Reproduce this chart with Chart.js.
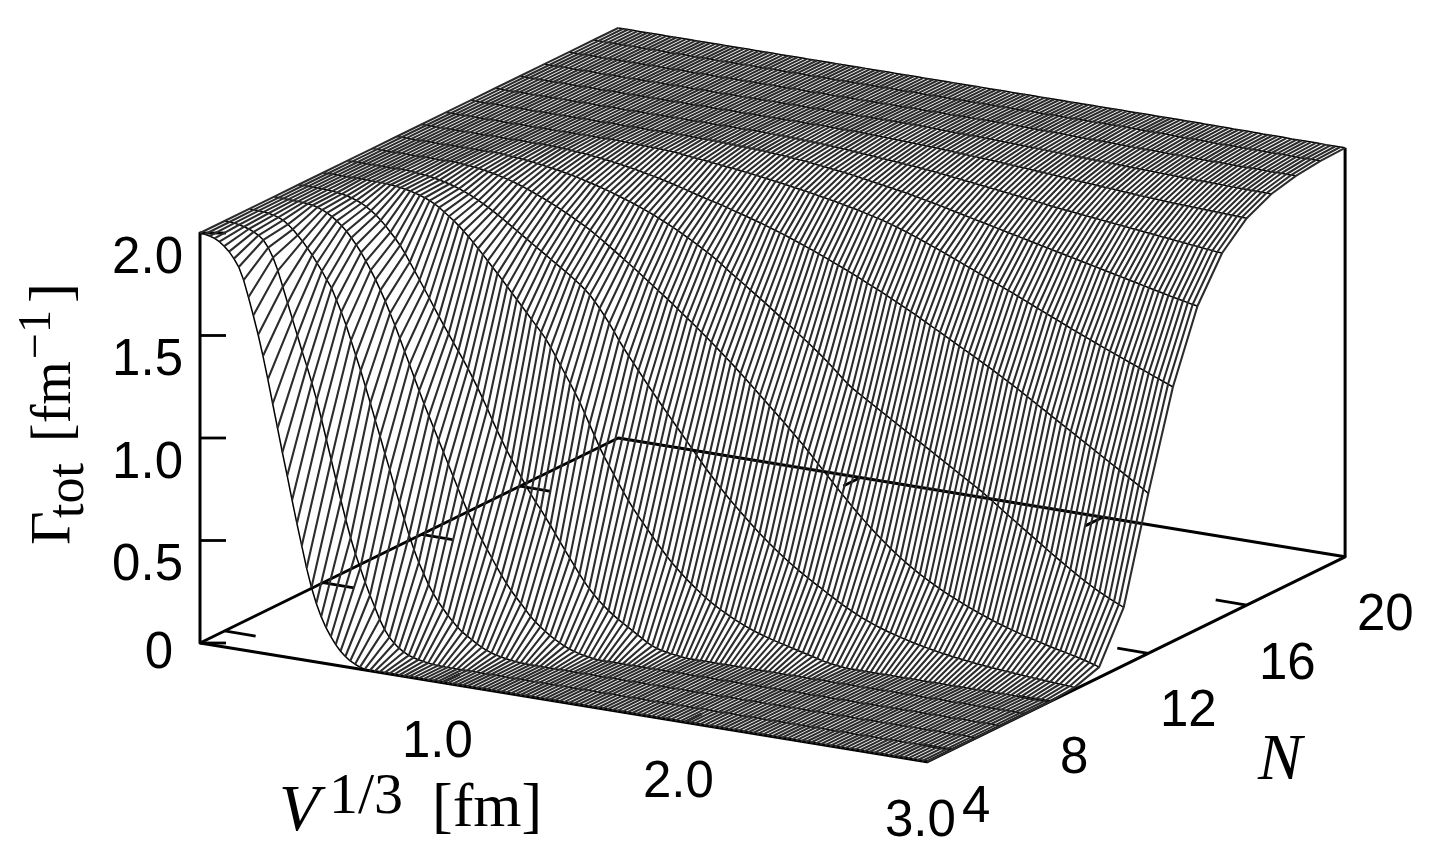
<!DOCTYPE html>
<html>
<head>
<meta charset="utf-8">
<title>Gamma tot surface</title>
<script src="https://cdn.jsdelivr.net/npm/chart.js@4/dist/chart.umd.js"></script>
<style>
    body { margin: 0; background: #fff; }
</style>
</head>
<body>
<canvas id="chart-div" width="1429" height="860"></canvas>
<script>
// Gamma_tot in 1/1000 fm^-1, one row per N, columns every 0.02 fm of V^(1/3).
// Before leadCols[row] the surface sits at 2000, after the end of the row at 0.
var nValues = [3, 4, 5, 6, 7, 8, 9, 10, 11, 12, 13, 14, 15, 16, 17, 18, 19, 20];
var leadCols = [0, 0, 0, 0, 6, 10, 13, 18, 21, 26, 36, 46, 56, 66, 76, 91, 111, 121];

var gammaN3 = [2000,1998,1993,1985,1973,1955,1932,1902,1865,1805,1725,1640,1550,1450,1340,1225,1110,995,885,770,660,555,450,360,285,225,175,135,100,72,50,32,20,10,4,0];
var gammaN4 = [2000,1999,1997,1993,1987,1980,1970,1957,1938,1905,1860,1800,1725,1650,1575,1500,1425,1355,1280,1200,1110,1015,920,825,730,640,555,480,415,350,290,235,180,135,100,75,55,40,28,20,14,10,6,3,1,0];
var gammaN5 = [2000,2000,1999,1997,1994,1989,1982,1972,1955,1935,1910,1885,1855,1825,1790,1755,1715,1680,1625,1570,1510,1440,1370,1300,1225,1150,1070,995,915,840,760,685,610,535,470,410,360,310,270,235,205,175,150,125,105,90,75,60,47,36,27,20,15,10,7,4,2,1,0];
var gammaN6 = [2000,2000,2000,1999,1998,1997,1995,1993,1990,1984,1975,1964,1950,1933,1913,1890,1862,1832,1798,1760,1720,1677,1630,1580,1525,1470,1410,1350,1290,1230,1170,1110,1055,1000,945,890,835,780,725,672,620,572,530,490,450,412,372,335,300,268,240,213,185,157,135,115,97,80,66,52,40,30,22,15,10,6,2,0];
var gammaN7 = [1998,1996,1993,1990,1985,1978,1970,1960,1947,1932,1914,1893,1869,1842,1815,1785,1750,1712,1672,1632,1592,1552,1510,1470,1430,1392,1354,1316,1278,1238,1196,1152,1106,1058,1008,960,915,870,830,790,750,712,675,640,610,575,540,503,466,430,395,360,325,292,262,236,212,190,170,152,135,120,105,90,75,60,45,33,24,18,13,9,6,3,0];
var gammaN8 = [1999,1999,1998,1997,1995,1992,1989,1985,1980,1974,1967,1959,1949,1937,1923,1905,1888,1870,1850,1828,1805,1780,1754,1728,1701,1674,1647,1620,1592,1564,1536,1508,1480,1452,1424,1396,1366,1330,1290,1250,1210,1170,1128,1085,1035,985,935,885,840,800,760,720,682,645,610,578,548,518,488,458,430,402,376,352,330,308,288,268,250,232,215,200,186,173,160,148,137,127,117,108,100,92,85,78,72,66,60,54,48,42,36,30,24,18,13,9,6,3,0];
var gammaN9 = [1998,1996,1994,1991,1988,1984,1979,1973,1967,1960,1952,1943,1933,1922,1910,1897,1884,1870,1855,1840,1824,1808,1792,1776,1760,1744,1728,1712,1696,1680,1664,1648,1632,1616,1598,1580,1560,1538,1510,1480,1448,1415,1378,1340,1305,1272,1240,1208,1176,1144,1113,1082,1052,1022,992,962,932,902,872,842,812,783,755,727,700,674,649,625,601,578,555,533,511,490,470,450,431,413,395,378,362,346,331,316,302,288,272,258,244,230,217,205,193,182,172,162,153,145,137,130,123,116,110,104,98,93,88,83,78,74,70,66,62,59,56,53,50,47,45,42,40,38,36,34,32,30,28,26,24,22,21,19,18,16,15,13,12,10];
var gammaN10 = [1998,1996,1994,1991,1988,1984,1980,1975,1970,1964,1958,1951,1943,1935,1926,1917,1907,1897,1887,1876,1865,1853,1841,1829,1816,1803,1790,1776,1760,1744,1728,1711,1694,1677,1660,1643,1626,1608,1590,1572,1554,1536,1518,1500,1481,1462,1443,1424,1405,1386,1366,1346,1326,1305,1284,1263,1242,1220,1198,1176,1153,1130,1107,1084,1061,1038,1015,992,968,944,920,896,870,844,818,792,766,740,714,688,663,638,614,590,567,545,523,502,482,462,443,425,408,392,376,361,347,333,320,307,295,283,272,261,250,240,230,220,211,202,193,185,177,169,162,155,148,141,135,129,123,117,111,105,100,95,89,84,78,72,65,58,50];
var gammaN11 = [1999,1998,1996,1994,1992,1990,1987,1984,1980,1977,1973,1969,1965,1961,1956,1951,1946,1940,1934,1928,1922,1915,1908,1901,1893,1885,1877,1869,1860,1851,1842,1832,1822,1811,1800,1789,1777,1765,1752,1739,1726,1712,1698,1684,1669,1654,1636,1618,1600,1584,1567,1550,1533,1516,1499,1482,1464,1446,1428,1410,1392,1374,1356,1338,1320,1301,1282,1262,1241,1220,1198,1175,1154,1136,1120,1105,1090,1075,1060,1045,1030,1015,1000,985,970,955,940,925,910,895,880,865,850,835,820,805,790,775,760,745,730,712,695,678,660,643,626,609,592,575,558,541,524,507,490,474,458,442,426,410,395,380,366,352,339,327,315,304,293,283];
var gammaN12 = [1999,1998,1997,1996,1995,1993,1991,1989,1987,1984,1981,1978,1975,1972,1968,1964,1960,1956,1952,1947,1942,1937,1932,1927,1921,1915,1909,1903,1897,1890,1883,1876,1870,1864,1858,1852,1846,1839,1832,1825,1818,1811,1804,1797,1790,1782,1774,1766,1758,1750,1741,1732,1723,1714,1705,1696,1686,1676,1666,1656,1646,1636,1626,1615,1604,1593,1582,1571,1560,1549,1537,1525,1513,1501,1489,1477,1465,1452,1439,1426,1413,1400,1387,1374,1361,1348,1335,1322,1309,1296,1283,1270,1256,1242,1228,1214,1200,1186,1171,1156,1141,1126,1111,1096,1081,1066,1051,1036,1021,1006,991,976,961,946,931,916,901,886,871,856,841,826,811,796,780];
var gammaN13 = [1999,1999,1998,1998,1997,1996,1995,1994,1993,1992,1990,1988,1986,1983,1980,1977,1975,1972,1970,1967,1964,1961,1958,1956,1953,1950,1947,1944,1940,1937,1933,1930,1926,1923,1919,1915,1911,1907,1903,1899,1895,1890,1886,1881,1877,1872,1867,1862,1857,1852,1846,1840,1834,1828,1822,1815,1808,1800,1792,1784,1775,1766,1757,1748,1738,1729,1720,1710,1700,1690,1680,1670,1660,1650,1640,1630,1620,1610,1600,1590,1580,1570,1559,1549,1538,1528,1517,1507,1496,1486,1476,1465,1455,1444,1434,1424,1414,1404,1394,1384,1374,1365,1355,1346,1336,1326,1317,1307,1298,1288,1278,1269,1259,1250,1240];
var gammaN14 = [1999,1999,1998,1998,1997,1996,1995,1994,1993,1992,1991,1990,1989,1988,1987,1986,1984,1982,1980,1978,1976,1974,1972,1970,1967,1964,1961,1958,1955,1952,1949,1946,1943,1939,1935,1931,1927,1923,1919,1915,1911,1907,1903,1899,1895,1890,1885,1880,1875,1870,1865,1860,1855,1849,1843,1838,1832,1827,1821,1816,1811,1805,1800,1794,1789,1783,1778,1773,1767,1762,1756,1751,1745,1740,1735,1729,1724,1718,1713,1708,1702,1697,1691,1686,1681,1675,1670,1664,1659,1654,1648,1643,1637,1632,1627,1621,1616,1610,1605,1600,1595,1590,1585,1580,1576];
var gammaN15 = [1999,1999,1998,1998,1997,1996,1995,1994,1993,1992,1991,1990,1988,1987,1985,1984,1982,1980,1978,1976,1974,1972,1970,1968,1966,1964,1962,1960,1958,1956,1954,1952,1949,1947,1944,1942,1939,1936,1933,1930,1927,1924,1921,1918,1915,1912,1909,1906,1903,1900,1897,1894,1891,1888,1885,1882,1878,1875,1871,1868,1865,1862,1860,1857,1854,1852,1849,1846,1844,1841,1838,1836,1833,1830,1828,1825,1822,1820,1817,1814,1812,1809,1806,1804,1801,1798,1796,1793,1790,1788,1785,1782,1780,1777,1776];
var gammaN16 = [1999,1999,1998,1998,1997,1996,1995,1994,1994,1993,1992,1991,1990,1989,1988,1987,1986,1985,1984,1983,1982,1980,1979,1978,1976,1975,1974,1972,1971,1969,1968,1966,1965,1963,1961,1960,1958,1956,1955,1953,1951,1949,1948,1946,1944,1942,1940,1939,1937,1935,1933,1931,1930,1928,1926,1924,1923,1921,1919,1917,1916,1914,1912,1911,1909,1908,1906,1905,1903,1902,1901,1900,1899,1898,1897,1896,1895,1894,1893,1892,1891,1890,1889,1888,1887];
var gammaN17 = [1999,1999,1998,1998,1997,1997,1996,1996,1995,1994,1994,1993,1992,1992,1991,1990,1990,1989,1988,1987,1987,1986,1985,1984,1983,1983,1982,1981,1980,1979,1978,1977,1976,1975,1975,1974,1973,1972,1971,1970,1969,1968,1968,1967,1966,1965,1964,1963,1963,1962,1961,1960,1959,1959,1958,1957,1956,1956,1955,1954,1954,1953,1952,1952,1951,1951,1950,1950,1949,1949,1948,1948,1947,1947,1946];
var gammaN18 = [1999,1999,1998,1998,1997,1997,1996,1996,1995,1995,1994,1994,1993,1993,1992,1992,1991,1991,1990,1990,1989,1989,1988,1988,1987,1987,1986,1986,1985,1985,1985,1984,1984,1983,1983,1983,1982,1982,1981,1981,1981,1980,1980,1980,1979,1979,1979,1979,1978,1978,1978,1978,1977,1977,1977,1977,1977,1976,1976,1976];
var gammaN19 = [1999,1999,1998,1998,1998,1997,1997,1997,1996,1996,1996,1995,1995,1995,1994,1994,1994,1994,1993,1993,1993,1993,1992,1992,1992,1992,1992,1991,1991,1991,1991,1991,1991,1990,1990,1990,1990,1990,1990,1990];
var gammaN20 = [1999,1999,1999,1999,1999,1999,1998,1998,1998,1998,1998,1998,1997,1997,1997,1997,1997,1997,1996,1996,1996,1996,1996,1996,1996,1995,1995,1995,1995,1995];

var gammaRows = [gammaN3, gammaN4, gammaN5, gammaN6, gammaN7, gammaN8, gammaN9, gammaN10, gammaN11, gammaN12, gammaN13, gammaN14, gammaN15, gammaN16, gammaN17, gammaN18, gammaN19, gammaN20];

var gammaTicks = [0, 0.5, 1.0, 1.5, 2.0];
var vTicks = [1, 2];
var nTicks = [4, 8, 12, 16];

var colCount = 151, colStep = 0.02;

// box projection: V 0..3, N 3..20, Gamma 0..2 onto the canvas
function project(v, n, g) {
    return {
        x: 200 + v * 242.3 + (n - 3) * 24.6,
        y: 643 + v * 39.6 - (n - 3) * 12.06 - g * 205
    };
}

function gammaAt(row, col) {
    var k = col - leadCols[row];
    if (k < 0) return 2;
    if (k >= gammaRows[row].length) return 0;
    return gammaRows[row][k] / 1000;
}

function lineDs(points, color, width) {
    return {
        data: points,
        showLine: true,
        pointRadius: 0,
        borderColor: color,
        borderWidth: width,
        borderCapStyle: 'butt',
        borderJoinStyle: 'round',
        tension: 0,
        fill: false
    };
}

var datasets = [];

// hatching: one line of constant V per column
for (var c = 0; c < colCount; c++) {
    var hatch = [];
    for (var r = 0; r < nValues.length; r++) {
        hatch.push(project(c * colStep, nValues[r], gammaAt(r, c)));
    }
    datasets.push(lineDs(hatch, '#2c2c2c', 2.1));
}

// darker lines of constant N
for (var r2 = 0; r2 < nValues.length; r2++) {
    var curve = [];
    for (var c2 = 0; c2 < colCount; c2++) {
        curve.push(project(c2 * colStep, nValues[r2], gammaAt(r2, c2)));
    }
    datasets.push(lineDs(curve, '#000', 1.5));
}

// box edges
var axisColor = '#000', axisWidth = 3, tickWidth = 2.8;
datasets.push(lineDs([project(0, 3, 2), project(0, 3, 0), project(3, 3, 0), project(3, 20, 0), project(0, 20, 0), project(0, 3, 0)], axisColor, axisWidth));
datasets.push(lineDs([project(3, 20, 0), project(3, 20, gammaAt(17, 150))], axisColor, axisWidth));

// ticks
gammaTicks.forEach(function (g) {
    var a = project(0, 3, g);
    datasets.push(lineDs([a, { x: a.x + 26, y: a.y }], axisColor, tickWidth));
});
vTicks.forEach(function (v) {
    datasets.push(lineDs([project(v, 3, 0), project(v, 3.7, 0)], axisColor, tickWidth));
    datasets.push(lineDs([project(v, 20, 0), project(v, 19.3, 0)], axisColor, tickWidth));
});
nTicks.forEach(function (n) {
    datasets.push(lineDs([project(0, n, 0), project(0.128, n, 0)], axisColor, tickWidth));
    datasets.push(lineDs([project(3, n, 0), project(2.872, n, 0)], axisColor, tickWidth));
});

var sans = '51px "Liberation Sans"';
var labels = [
    ['2.0', 183, 273, 'right', sans], ['1.5', 183, 375, 'right', sans], ['1.0', 183, 478, 'right', sans],
    ['0.5', 183, 580, 'right', sans], ['0', 173, 668, 'right', sans],
    ['1.0', 402, 757, 'left', sans], ['2.0', 643, 797, 'left', sans], ['3.0', 885, 836, 'left', sans],
    ['4', 962, 822, 'left', sans], ['8', 1060, 773, 'left', sans], ['12', 1160, 726, 'left', sans],
    ['16', 1259, 679, 'left', sans], ['20', 1357, 630, 'left', sans],
    ['N', 1258, 779, 'left', 'italic 66px "Liberation Serif"'],
    ['V', 279, 830, 'left', 'italic 66px "Liberation Serif"'],
    ['1/3', 329, 813, 'left', '58px "Liberation Serif"'],
    ['[fm]', 432, 826, 'left', '62px "Liberation Serif"']
];
// pieces of the rotated title: text, distance along the axis, baseline x, font
var gammaTitle = [
    ['\u0393', 0, 70, '58px "Liberation Serif"'],
    ['tot', 27, 83, '52px "Liberation Serif"'],
    ['[fm', 103, 70, '56px "Liberation Serif"'],
    ['\u22121', 186, 50, '46px "Liberation Serif"'],
    [']', 242, 70, '60px "Liberation Serif"']
];

var textPlugin = {
    id: 'textPlugin',
    afterDraw: function (chart) {
        var ctx = chart.ctx;
        ctx.save();
        ctx.fillStyle = '#000';
        ctx.textBaseline = 'alphabetic';
        labels.forEach(function (l) {
            ctx.font = l[4];
            ctx.textAlign = l[3];
            ctx.fillText(l[0], l[1], l[2]);
        });
        ctx.textAlign = 'left';
        gammaTitle.forEach(function (p) {
            ctx.save();
            ctx.translate(p[2], 545 - p[1]);
            ctx.rotate(-Math.PI / 2);
            ctx.font = p[3];
            ctx.fillText(p[0], 0, 0);
            ctx.restore();
        });
        ctx.restore();
    }
};

new Chart(document.getElementById('chart-div').getContext('2d'), {
    type: 'scatter',
    data: { datasets: datasets },
    plugins: [textPlugin],
    options: {
        responsive: false,
        animation: false,
        layout: { padding: 0 },
        plugins: { legend: { display: false }, title: { display: false }, tooltip: { enabled: false } },
        scales: {
            x: { type: 'linear', min: 0, max: 1429, display: false },
            y: { type: 'linear', min: 0, max: 860, reverse: true, display: false }
        }
    }
});
</script>
</body>
</html>
